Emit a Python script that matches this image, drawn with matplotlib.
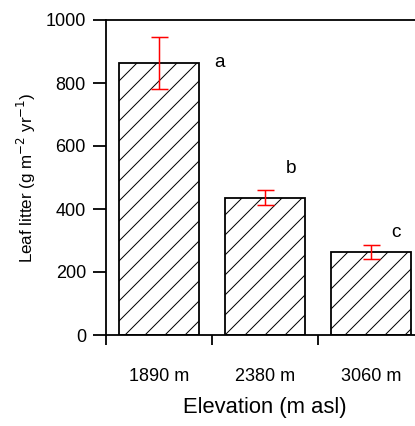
import matplotlib
matplotlib.use("Agg")
import matplotlib.pyplot as plt
import numpy as np

DPI = 120
PT = 72 / DPI  # points per pixel

plt.rcParams["font.family"] = ["Liberation Sans", "DejaVu Sans"]
plt.rcParams["hatch.linewidth"] = 1.0 * PT

elevations = ["1890 m", "2380 m", "3060 m"]
litter = [864, 436, 264]
litter_err = [83, 24, 22]
letters = ["a", "b", "c"]

fig = plt.figure(figsize=(415 / DPI, 426 / DPI), dpi=DPI)
ax = fig.add_axes([106 / 415, 1 - 335 / 426, 318 / 415, 315 / 426])

x = np.arange(len(elevations))
ax.bar(x, litter, 0.75, color="white", edgecolor="black", linewidth=1.8 * PT, hatch="//")
ax.errorbar(x, litter, yerr=litter_err, fmt="none", ecolor="red", elinewidth=1.5 * PT,
            capsize=8.5 * PT, capthick=1.5 * PT)

# significance letters, placed at the baseline
letter_dx = [0.575, 0.245, 0.24]
letter_y = [851, 514, 311]
for xi, dx, ly, lab in zip(x, letter_dx, letter_y, letters):
    ax.text(xi + dx, ly, lab, fontsize=19 * PT, ha="center", va="baseline")

ax.set_xlim(-0.5, 2.5)
ax.set_ylim(0, 1000)
ax.set_yticks([0, 200, 400, 600, 800, 1000])
ax.set_xticks(x)
ax.set_xticklabels(elevations, fontsize=18 * PT)
ax.set_xticks(np.arange(-0.5, 3.0, 1.0), minor=True)
ax.tick_params(axis="x", which="major", length=0, pad=33 * PT)
ax.tick_params(axis="x", which="minor", direction="out", length=10 * PT, width=1.8 * PT)
ax.tick_params(axis="y", direction="out", length=13 * PT, width=1.8 * PT,
               labelsize=18 * PT, pad=7 * PT)
for s in ax.spines.values():
    s.set_linewidth(1.8 * PT)

ax.set_xlabel("Elevation (m asl)", fontsize=22 * PT, labelpad=12 * PT)
ax.set_ylabel("Leaf litter (g m$^{-2}$ yr$^{-1}$)", fontsize=17 * PT, labelpad=8 * PT)

fig.savefig("out.png", dpi=DPI)
